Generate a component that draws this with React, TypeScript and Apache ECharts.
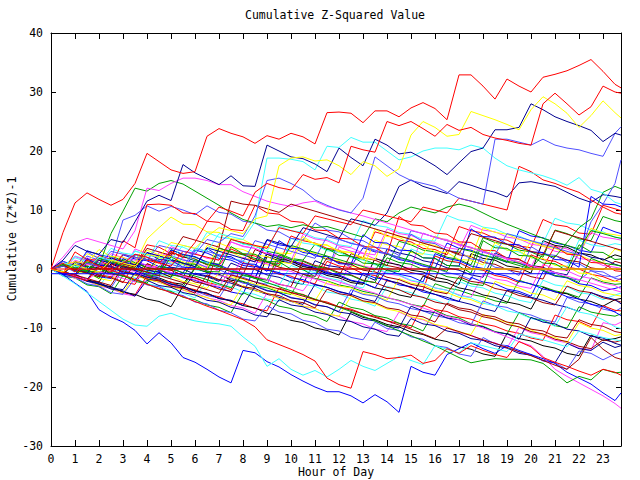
import React, { useEffect, useRef } from "react";
import * as echarts from "echarts";

// ---- axis / labels ----
const TITLE = "Cumulative Z-Squared Value";
const X_NAME = "Hour of Day";
const Y_NAME = "Cumulative (Z*Z)-1";
const X_MIN = 0;
const X_MAX = 23.75;
const Y_MIN = -30;
const Y_MAX = 40;

// sample times (hours): every half hour, last sample at 23:45
const HOURS = [
  0, 0.5, 1, 1.5, 2, 2.5, 3, 3.5, 4, 4.5, 5, 5.5,
  6, 6.5, 7, 7.5, 8, 8.5, 9, 9.5, 10, 10.5, 11, 11.5,
  12, 12.5, 13, 13.5, 14, 14.5, 15, 15.5, 16, 16.5, 17, 17.5,
  18, 18.5, 19, 19.5, 20, 20.5, 21, 21.5, 22, 22.5, 23, 23.5,
  23.75,
];

// ---- series values ----
const R1 = [
  0, 6.2, 11.2, 12.9, 11.8, 10.8, 11.8, 14.5, 19.6, 18.2, 16.8, 16.2,
  16.5, 22.5, 23.8, 23, 22.4, 21.3, 22.6, 22, 23, 22.4, 21.2, 26.5,
  26.6, 26.4, 24.8, 26.8, 26.8, 25.8, 27.3, 28.2, 27.2, 25.3, 32.9, 32.9,
  31, 28.8, 32.2, 31, 30, 32.5, 33, 33.6, 34.5, 35.5, 33.5, 31.3,
  30.7,
];
const R2 = [
  0, 1, -0.5, 1.5, 0.5, -0.5, 1, 2.5, 2, 1, 3, 2,
  4.5, 8, 10.5, 9.8, 9, 13, 14.5, 13.8, 13.4, 16, 15.2, 15.5,
  14.6, 20.8, 20.2, 19.8, 25, 24.3, 25, 23.8, 22.5, 24.5, 23.5, 24,
  22.8, 22.2, 21.8, 21.3, 21, 28, 29.8, 28, 26.1, 27.5, 31, 30,
  29.8,
];
const Y1 = [
  0, -0.5, 0.8, 0, -0.5, 1.5, 1, 0.5, 2.5, 2, 4.5, 4,
  3.5, 5.5, 7, 6.5, 6, 8.5, 9, 17.5, 18.8, 19, 18.3, 18.5,
  17.5, 16, 18.2, 17.5, 15.7, 17, 22.7, 25, 24, 22.5, 22.8, 26.7,
  26, 25.3, 24.5, 23.6, 27, 29.2, 28, 26.4, 24, 26, 28.5, 26.5,
  25.6,
];
const B1 = [
  0, 1.5, 4, 3, 2.5, 5, 4.5, 8, 11.5, 12.5, 11.6, 17.7,
  16.3, 15.3, 14.3, 15.8, 14.1, 14, 21, 20, 19, 18.7, 17.8, 16.5,
  20.5, 18.9, 17.5, 22, 21, 19.5, 19.8, 18.7, 17.5, 16, 18, 19.9,
  20.5, 23.6, 23.6, 24, 28, 27, 25.8, 25, 24.3, 23.5, 21.6, 23,
  22.7,
];
const L1 = [
  0, 0.5, -0.5, 1, 0.5, 3, 2.5, 2, 1.5, 4, 3.5, 3,
  2.5, 5, 4.5, 6, 5.5, 9, 15, 15.4, 14.5, 13.4, 11.7, 10.8,
  10, 9.5, 12, 19, 17.5, 16, 15, 14.5, 14, 13, 12, 11.5,
  11, 22, 22, 21.5, 21, 22, 21, 20.5, 20.2, 19.6, 19.1, 23,
  24.1,
];
const C1 = [
  0, 1, 0.5, 0, 2, 1.5, 1, 3, 2.5, 2, 1.5, 4,
  3.5, 3, 6, 5.5, 5, 8, 18.8, 18.8, 18.6, 18.2, 16.8, 20.8,
  20.6, 22.3, 21.5, 21.5, 20, 18.5, 19, 20, 20.5, 20.5, 20.2, 21,
  20.5, 18.8, 17.5, 16.8, 16.3, 15.8, 15.1, 14.2, 15.5, 13.5, 12.9, 11.3,
  11,
];
const R3 = [
  0, -0.5, -1, 1, 0.5, 0, 2.5, 2, 1.5, 1, 0.5, 3,
  2.5, 2, 1.5, 5, 4.5, 4, 3.5, 7, 6.5, 6, 9, 8.5,
  8, 7.5, 10, 9.5, 9, 8.5, 8, 10.5, 10, 9.5, 12, 11.5,
  11, 10.5, 10, 17.4, 16.5, 15.1, 14.5, 13.7, 13, 11.7, 10.5, 9.5,
  9.3,
];
const BB1 = [
  0, -0.9, -2.4, -3.8, -6.9, -8.1, -9, -10.4, -12.7, -10.8, -12.5, -15,
  -15.8, -17, -18.3, -19.3, -13.8, -14.2, -15.7, -16.6, -17.9, -19, -20, -20.8,
  -20.8, -21.5, -22.7, -21.3, -22.5, -24.3, -16.5, -17.5, -18, -14.5, -13.5, -12.5,
  -13.5, -14.3, -13, -13.8, -14.5, -15.2, -16, -17.5, -18.5, -19.5, -21, -22.3,
  -21,
];
const MB = [
  0, -0.5, -1.2, -1.8, -0.5, -1, -1.6, -2.2, 0.5, 0, -0.6, -1.2,
  -1.8, -2.4, -3, 0, -0.6, -1.2, -1.8, -2.5, -3.1, -3.7, -1, -1.6,
  -2.2, -2.8, -3.5, -4.1, -4.8, -5.4, -6, -6.6, -7.3, -8, -8.6, -9.3,
  -10, -10.7, -11.5, -12.3, -13, -14.8, -17, -18.2, -19.3, -20.4, -21.5, -22.8,
  -23.6,
];
const GB = [
  0, -0.5, -1, 0.5, 0, -0.6, -1.2, -1.8, -2.4, 0.5, 0, -0.6,
  -1.2, -1.8, -2.5, -3.2, -1, -1.6, -2.3, -3, -3.7, -4.4, -5.1, -5.8,
  -6.5, -7.2, -8, -8.8, -9.6, -10.5, -11.3, -12.2, -13, -14, -15, -15.9,
  -15.5, -15.2, -15.3, -15.3, -15.4, -16, -17.6, -19.3, -18.2, -18.8, -17, -17.6,
  -17.5,
];
const CB = [
  0, -1.2, -2.5, -4, -5.5, -7, -8.5, -9.5, -9.7, -8, -7.5, -8.3,
  -8.8, -9.1, -9.3, -9.7, -11.5, -13.1, -16.5, -15.2, -17, -18, -17.2, -18.3,
  -17, -15.5, -16.5, -17.2, -16, -14.8, -15.5, -16.2, -13, -13.6, -14.2, -12.5,
  -13, -13.5, -14, -11, -11.5, -12, -12.6, -13.2, -10.5, -11, -11.6, -12,
  -12.2,
];
const RB = [
  0, -0.6, -1.3, -2, 0.5, -0.2, -1, -1.8, -2.6, -3.3, -4, -4.7,
  -5.5, -6.3, -7, -7.8, -8.6, -9.8, -12, -12.8, -13.6, -14.5, -15.6, -18.5,
  -19.6, -20.2, -14, -14.5, -15.2, -15, -14.6, -16, -15.5, -13.5, -14.3, -13,
  -13.8, -14.5, -15, -12.3, -13.2, -15, -15.8, -16.5, -17.3, -18, -17, -17.5,
  -18,
];
const DRB = [
  0, -0.5, -1, -1.6, -2.2, -2.8, 0.5, 0, -0.5, -1.1, -1.7, -2.3,
  -2.9, -3.5, -4.1, -1, -1.6, -2.2, -2.8, -3.4, -4, -4.6, -5.2, -5.8,
  -6.4, -7, -7.6, -8.2, -8.8, -9.5, -10.2, -11, -11.8, -10, -10.6, -11.3,
  -12, -12.6, -13.3, -14, -14.7, -15.5, -16.3, -17, -15.3, -11.6, -13.6, -15,
  -15.3,
];
const M1 = [
  0, 0.8, 0.2, -0.4, 1.8, 1.2, 0.6, 0, -0.6, 2.2, 1.6, 1,
  0.4, -0.2, 3.5, 3, 2.4, 1.8, 1.2, 0.6, 4, 3.4, 2.8, 2.2,
  1.6, 1, 0.4, -0.2, 2.5, 2, 1.4, 0.8, 0.2, -0.4, 3.5, 3,
  2.4, 1.8, 1.2, 0.6, 0, 2.5, 2, 4.5, 7, 8.5, 13, 14,
  13.6,
];
const M2 = [
  0, -0.6, -1.2, 1, 0.4, -0.2, -0.8, 2.5, 2, 1.4, 0.8, 0.2,
  3.5, 3, 2.4, 1.8, 1.2, 4.8, 4.2, 3.6, 3, 2.4, 1.8, 5.5,
  5, 4.4, 3.8, 3.2, 2.6, 2, 6.5, 6, 5.4, 4.8, 4.2, 3.6,
  3, 2.4, 6, 5.4, 4.8, 4.2, 3.6, 3, 2.4, 8, 11, 14.5,
  18.5,
];
const M3 = [
  0, 0.5, -0.1, -0.7, 1.5, 1, 0.4, -0.2, 2.8, 2.2, 1.6, 1,
  0.4, 3.6, 3, 2.4, 1.8, 1.2, 5, 4.4, 3.8, 7, 6.4, 5.8,
  5.2, 8.5, 8, 7.4, 9.5, 14, 15.1, 14, 13.4, 12.8, 14.8, 14.2,
  13.5, 13, 12.2, 14.6, 14.8, 14.4, 14, 13, 12, 11.3, 12.6, 12.3,
  12.1,
];
const GU = [
  0, 0.6, 0, 1.2, 0.6, 6, 9.8, 13.7, 13.2, 14.5, 15, 14.4,
  13.2, 12, 10.8, 9.5, 8.4, 7.8, 7.2, 7.5, 7, 7.5, 7, 7.2,
  6.6, 6, 5.4, 8.5, 8, 9.5, 10.5, 10, 9.5, 10.5, 11, 10.5,
  9.5, 8.5, 7.6, 6.8, 6, 5.2, 4.6, 4, 3.4, 6.5, 6, 5.4,
  5.2,
];
const MU = [
  0, 2, 4.5, 5.2, 4.6, 4, 3.4, 6.5, 13.7, 13.3, 14.5, 15.4,
  15.4, 15, 14.3, 14.3, 13.1, 12.3, 11.5, 11, 10.6, 11.2, 11.5, 10.6,
  10.1, 9.5, 9, 8.4, 7.8, 7.2, 6.6, 6, 5.4, 4.8, 4.2, 3.6,
  3, 2.4, 1.8, 1.2, 0.6, 0, -0.6, -1.2, -1.8, -2.4, -3, -3.6,
  -3.9,
];
const DR1 = [
  0, 0.5, -0.1, -0.7, -1.3, 1.5, 0.9, 0.3, 3.5, 2.9, 2.3, 5.5,
  4.9, 4.3, 3.7, 11.5, 11, 10.8, 10.2, 9.6, 11, 10.4, 9.8, 9.2,
  8.6, 8, 7.4, 6.8, 6.2, 5.6, 5, 4.4, 3.8, 3.2, 2.6, 6,
  5.4, 4.8, 4.2, 3.6, 3, 2.4, 6.5, 5.9, 5.3, 4.7, 4.1, 3.5,
  3.2,
];
const U1 = [
  0, 1.3, 0.2, 2.9, 1.8, 1.5, 8.3, 9.1, 10.7, 9.8, 10.6, 10.0,
  9.2, 10.7, 9.6, 9.3, 8.1, 7.8, 6.6, 6.3, 5.2, 4.9, 7.8, 6.6,
  6.3, 5.1, 4.8, 3.7, 3.4, 2.3, 5.9, 4.6, 4.3, 3.1, 2.9, 1.7,
  1.5, 0.3, 0.0, -1.1, 3.8, 2.6, 2.3, 1.1, 0.9, -0.3, -0.5, -1.6,
  -1.8,
];
const U2 = [
  0, -0.8, 2.9, 1.6, 1.5, 0.4, 4.8, 3.6, 10.9, 11.0, 10.8, 9.5,
  9.4, 8.1, 7.9, 6.7, 6.5, 10.8, 9.5, 9.3, 8.1, 7.9, 6.6, 6.5,
  5.2, 5.1, 3.8, 3.7, 2.4, 8.9, 7.5, 7.3, 6.1, 5.9, 4.6, 4.5,
  3.2, 3.1, 1.8, 1.7, 0.4, 0.3, 3.9, 2.5, 2.4, 1.1, 1.0, -0.3,
  -0.4,
];
const U3 = [
  0, 0.8, 1.2, 1.1, 3.3, 2.1, 2.0, 0.9, 5.1, 7.0, 8.8, 7.6,
  7.5, 6.3, 6.2, 5.1, 5.0, 3.9, 3.8, 2.7, 2.6, 5.5, 4.2, 4.1,
  2.9, 2.8, 1.6, 6.8, 5.5, 5.4, 4.2, 4.1, 2.9, 2.8, 1.6, 1.5,
  0.7, 4.5, 3.2, 3.1, 1.9, 1.8, 0.6, 0.5, -0.7, -0.8, -2.0, -2.1,
  -2.2,
];
const U4 = [
  0, -0.9, -1.0, 1.8, 0.6, 0.5, -0.7, -0.8, 2.8, 1.6, 1.5, 0.3,
  0.2, 3.5, 2.2, 2.1, 0.9, 0.8, -0.4, 4.8, 3.5, 3.4, 2.2, 2.1,
  0.9, 0.8, 5.8, 4.5, 4.4, 3.2, 3.1, 1.9, 1.8, 0.6, 0.5, 6.8,
  5.5, 5.4, 4.2, 4.1, 2.9, 2.8, 1.6, 1.5, 0.3, 12.3, 11.0, 10.9,
  10.5,
];
const U5 = [
  0, 0.8, -0.4, -0.5, -1.6, 1.5, 0.3, 0.2, -1.0, -1.1, 2.1, 0.9,
  0.8, -0.4, -0.5, 3.8, 2.6, 2.5, 1.3, 1.2, 0.0, -0.1, -1.3, 3.5,
  2.3, 2.2, 1.0, 0.9, -0.3, -0.4, 3.1, 1.9, 1.8, 0.6, 0.5, -0.7,
  4.8, 3.6, 3.5, 2.3, 2.2, 1.0, 0.9, -0.3, 4.1, 2.9, 2.8, 1.6,
  1.7,
];
const A1 = [
  0, 0.7, -0.1, -0.5, 2.3, 1.6, 1.4, 0.5, 4.1, 3.7, 2.6, 2.3,
  1.5, 0.8, 0.6, 3.4, 2.5, 2.2, 1.1, 0.9, 5.6, 4.8, 4.4, 3.5,
  3.2, 2.1, 1.9, 6.3, 5.7, 4.9, 4.6, 3.5, 3.3, 2.4, 7.2, 6.5,
  6.1, 5.2, 4.9, 3.9, 3.6, 8.4, 7.5, 7.2, 6.1, 5.9, 10.8, 10.2,
  9.9,
];
const A2 = [
  0, -0.8, 0.9, 0.3, -0.6, -0.9, 1.7, 1.1, 0.2, -0.1, 3.3, 2.4,
  2.0, 1.2, 0.8, 5.1, 4.3, 3.9, 3.0, 2.6, 1.8, 1.5, 4.2, 3.3,
  3.0, 2.1, 1.6, 0.9, 0.6, 4.7, 4.1, 3.2, 2.9, 2.0, 1.6, 0.7,
  5.3, 4.5, 4.2, 3.2, 2.9, 2.0, 6.6, 6.0, 5.1, 4.8, 8.9, 8.2,
  8.0,
];
const A3 = [
  0, 1.3, 0.6, 0.4, -0.5, -0.8, 2.4, 1.7, 1.4, 0.4, 0.2, -0.7,
  3.2, 2.7, 1.8, 1.5, 0.6, 0.3, 4.9, 4.1, 3.8, 2.8, 2.5, 1.6,
  1.3, 0.4, 3.6, 2.9, 2.6, 1.6, 1.2, 0.5, 0.1, 4.4, 3.5, 3.2,
  2.3, 1.9, 1.1, 6.5, 5.6, 5.3, 4.4, 4.0, 3.2, 2.8, 7.1, 6.3,
  6.0,
];
const A4 = [
  0, -0.6, -1.4, 1.9, 1.1, 0.8, -0.1, -0.4, -1.3, 2.8, 2.0, 1.7,
  0.8, 0.4, -0.4, 4.6, 3.9, 3.5, 2.6, 2.3, 1.3, 1.0, 0.2, -0.2,
  3.7, 3.0, 2.6, 1.7, 1.4, 0.5, 0.1, 6.1, 5.3, 5.0, 4.0, 3.7,
  2.8, 2.4, 1.6, 1.2, 0.3, 4.5, 3.8, 3.4, 2.5, 6.2, 5.4, 5.1,
  4.9,
];
const A5 = [
  0, 0.4, 2.2, 1.6, 0.7, 0.4, -0.5, 3.1, 2.3, 2.0, 1.0, 0.7,
  -0.1, -0.5, 2.5, 1.8, 1.4, 0.5, 0.1, -0.7, 5.2, 4.4, 4.1, 3.1,
  2.8, 1.9, 1.5, 0.7, 0.3, -0.5, 3.4, 2.6, 2.3, 1.3, 1.0, 0.1,
  -0.3, 4.0, 3.2, 2.9, 1.9, 1.6, 0.7, 0.3, 4.9, 4.1, 3.8, 4.3,
  4.1,
];
const A6 = [
  0, -0.9, -1.2, 1.4, 0.6, 0.3, -0.7, -1.0, -1.8, 1.9, 1.2, 0.8,
  -0.1, 4.0, 3.2, 2.9, 1.9, 1.6, 0.7, 0.4, 3.8, 3.0, 2.7, 1.7,
  1.4, 0.5, 0.1, 4.9, 4.1, 3.8, 2.8, 2.5, 5.6, 4.8, 4.5, 3.5,
  3.2, 2.3, 1.9, 1.1, 4.8, 4.0, 3.7, 2.7, 2.4, 1.5, 1.1, 3.4,
  3.0,
];
const A7 = [
  0, -0.7, -0.9, -1.9, -2.2, 0.9, 0.1, -0.2, -1.1, -1.5, -2.3, -2.6,
  0.2, -0.6, -0.9, -1.9, -2.2, -3.1, 2.1, 1.4, 1.0, 0.1, -0.2, -1.1,
  -1.5, -2.3, -2.6, 1.8, 1.1, 0.7, -0.2, -0.5, -1.4, -1.8, -2.6, 2.6,
  1.8, 1.5, 0.5, 0.2, -0.7, 4.8, 4.0, 3.7, 2.7, 2.4, 1.5, 2.4,
  2.1,
];
const A8 = [
  0, 0.9, 0.2, -0.2, -1.1, 1.6, 0.8, 0.5, -0.5, -0.8, 2.8, 2.0,
  1.7, 0.7, 0.4, -0.5, -0.9, 3.3, 2.5, 2.2, 1.2, 0.9, 0.0, -0.4,
  -1.2, 2.6, 1.9, 1.5, 0.6, 0.2, -0.6, -1.0, -1.8, 3.2, 2.4, 2.1,
  1.1, 0.8, -0.1, -0.5, -1.3, -1.7, 2.3, 1.5, 1.2, 0.2, -0.1, 1.3,
  1.0,
];
const A9 = [
  0, -1.0, 1.2, 0.4, 0.1, -0.8, -1.2, 2.4, 1.6, 1.3, 0.3, 0.0,
  -0.9, -1.3, -2.1, 1.0, 0.2, -0.1, -1.0, -1.4, -2.2, -2.6, 1.4, 0.6,
  0.3, -0.7, -1.0, -1.9, 3.4, 2.7, 2.3, 1.4, 1.0, 0.2, -0.2, -1.0,
  -1.4, 2.7, 1.9, 1.6, 0.6, 0.3, -0.6, -1.0, 2.8, 2.0, 1.7, 0.8,
  0.5,
];
const A10 = [
  0, 0.6, -0.3, 2.2, 1.5, 1.1, 0.2, -0.1, -1.0, -1.4, 2.3, 1.5,
  1.2, 0.2, -0.1, -1.0, -1.4, -2.2, -2.6, 1.7, 1.0, 0.6, -0.3, -0.7,
  5.1, 4.3, 4.0, 3.0, 2.7, 1.8, 1.4, 0.6, 0.2, -0.6, -1.0, -1.8,
  3.0, 2.2, 1.9, 0.9, 0.6, -0.3, -0.7, -1.5, -1.9, -0.3, -1.1, -1.4,
  -1.0,
];
const A11 = [
  0, 1.0, 0.2, -0.1, -1.0, -1.3, -2.2, -2.6, 0.9, 0.1, -0.2, -1.1,
  -1.5, -2.3, -2.7, -3.5, 1.1, 0.4, 0.0, -0.9, -1.2, -2.1, -2.5, 1.3,
  0.5, 0.2, -0.8, -1.1, -2.0, -2.4, -3.2, -3.6, 2.2, 1.4, 1.1, 0.1,
  -0.2, -1.1, -1.5, -2.3, 2.4, 1.6, 1.3, 0.3, 0.0, -0.9, -1.3, -2.1,
  -1.6,
];
const A12 = [
  0, -0.4, -1.3, 1.6, 1.0, 0.5, -0.3, -0.8, -1.4, -1.9, -2.5, -3.0,
  0.1, -0.5, -1.0, -1.6, -2.1, -2.8, -3.2, -3.9, -4.3, -0.9, -1.6, -2.0,
  -2.7, -3.1, -3.8, -4.2, -4.9, -5.3, -6.0, -6.4, -2.5, -3.2, -3.6, -4.3,
  -4.7, -5.4, -5.8, -1.9, -2.6, -3.0, -3.7, -4.1, -4.8, -1.5, -2.2, -2.6,
  -2.5,
];
const A13 = [
  0, 0.7, -0.1, -0.4, -1.3, -1.6, 1.8, 1.0, 0.7, -0.3, -0.6, -1.5,
  -1.9, -2.7, -3.1, -3.9, -4.3, 0.5, -0.2, -0.6, -1.5, -1.8, -2.7, -3.1,
  -3.9, -4.3, -0.7, -1.5, -1.8, -2.7, -3.0, -3.9, -4.3, -5.1, -5.5, -1.4,
  -2.2, -2.5, -3.4, -3.8, -4.6, -0.4, -1.2, -1.5, -2.5, -2.8, -3.7, -3.3,
  -3.0,
];
const A14 = [
  0, -0.6, 2.1, 1.4, 1.0, 0.1, -0.2, 3.4, 2.6, 2.3, 1.3, 1.0,
  0.1, -0.3, -1.1, -1.5, 2.0, 1.2, 0.9, -0.1, -0.4, -1.3, -1.7, -2.5,
  -2.9, 1.2, 0.5, 0.1, -0.8, -1.1, -2.0, -2.4, -3.2, -3.6, -4.4, -4.8,
  -0.9, -1.7, -2.0, -2.9, -3.3, 0.8, 0.0, -0.3, -1.2, -1.6, -2.4, -2.8,
  -3.4,
];
const A15 = [
  0, -1.1, -1.4, -2.6, -2.9, -0.4, -1.2, -1.5, -2.5, -2.9, -3.7, -4.1,
  -4.9, -1.9, -2.7, -3.0, -3.9, -4.3, -5.1, -5.5, -1.8, -2.6, -2.9, -3.9,
  -4.2, -5.1, -5.5, -6.3, -2.9, -3.6, -4.0, -4.9, -5.2, -6.1, -2.1, -2.9,
  -3.2, -4.1, -4.5, -5.3, -5.7, -1.9, -2.7, -3.0, -4.0, -4.3, -5.2, -4.4,
  -4.1,
];
const A16 = [
  0, 0.5, -0.4, -0.7, -1.6, -2.0, 1.2, 0.4, 0.1, -0.9, -1.2, -2.1,
  -2.5, -3.3, -0.6, -1.3, -1.7, -2.6, -2.9, -3.8, -4.2, -5.0, -5.4, -2.1,
  -2.9, -3.2, -4.1, -4.5, -5.3, -1.6, -2.4, -2.7, -3.6, -4.0, -4.8, -5.2,
  -6.0, -2.1, -2.8, -3.2, -4.1, -4.4, -5.3, -2.0, -2.8, -3.1, -4.0, -4.4,
  -4.6,
];
const A17 = [
  0, 0.8, -0.1, -0.4, -1.3, 1.9, 1.1, 0.8, -0.2, -0.5, -1.4, 2.2,
  1.4, 1.1, 0.1, -0.2, -1.1, -1.5, 2.5, 1.7, 1.4, 0.4, 0.1, -0.8,
  -1.2, -2.0, -2.4, -3.2, -3.6, -4.4, -4.8, -1.2, -2.0, -2.3, -3.2, -3.6,
  -4.4, -4.8, -5.6, -6.0, -6.8, -3.1, -3.9, -4.2, -5.1, -5.5, -6.3, -5.2,
  -5.0,
];
const A18 = [
  0, -0.9, 1.3, 0.5, 0.2, -0.8, -1.1, -2.0, 0.9, 0.1, -0.2, -1.1,
  -1.5, -2.3, 3.6, 2.8, 2.5, 1.5, 1.2, 0.3, -0.1, -0.9, -1.3, 1.9,
  1.1, 0.8, -0.2, -0.5, -1.4, -1.8, -2.6, -3.0, -3.8, -4.2, -1.3, -2.1,
  -2.4, -3.3, -3.7, -4.5, -4.9, -5.7, -6.1, -2.9, -3.7, -4.0, -4.9, -5.3,
  -5.6,
];
const A19 = [
  0, -0.5, -1.4, -1.8, 0.8, 0.3, -0.5, -1.0, -1.7, -2.2, -2.9, -3.4,
  -0.7, -1.2, -1.9, -2.4, -3.1, -3.6, -4.3, -4.8, -5.5, -6.0, -2.6, -3.1,
  -3.8, -4.3, -5.0, -5.5, -1.9, -2.4, -3.1, -3.6, -4.3, -4.8, -5.5, -6.0,
  -6.7, -7.2, -3.6, -4.1, -4.8, -5.3, -6.0, -6.5, -7.2, -4.0, -4.7, -5.2,
  -5.9,
];
const A20 = [
  0, -0.8, -1.1, -2.0, -2.4, -3.2, -0.1, -0.9, -1.2, -2.1, -2.5, -3.3,
  -3.7, -4.5, -4.9, -1.6, -2.4, -2.7, -3.6, -4.0, -4.8, -5.2, -6.0, -6.4,
  -7.2, -3.5, -4.3, -4.6, -5.5, -5.9, -6.7, -7.1, -7.9, -8.3, -9.1, -9.5,
  -5.4, -6.2, -6.5, -7.4, -7.8, -8.6, -9.0, -4.8, -5.6, -5.9, -6.8, -7.2,
  -6.6,
];
const A21 = [
  0, -0.6, -1.5, -1.9, -2.8, -3.1, -4.0, -4.4, -1.1, -1.9, -2.2, -3.1,
  -3.5, -4.3, -4.7, -5.5, -5.9, -6.7, -7.1, -3.2, -4.0, -4.3, -5.2, -5.6,
  -6.4, -6.8, -7.6, -8.0, -8.8, -9.2, -10.0, -6.1, -6.9, -7.2, -8.1, -8.5,
  -9.3, -9.7, -10.5, -10.9, -11.7, -12.1, -7.8, -8.6, -8.9, -9.8, -6.2, -7.0,
  -7.1,
];
const A22 = [
  0, -1.2, -1.5, -2.7, -3.0, -4.2, -1.1, -2.1, -2.5, -3.4, -3.8, -4.8,
  -5.2, -6.1, -6.5, -7.4, -4.0, -4.9, -5.3, -6.3, -6.7, -7.6, -8.0, -8.9,
  -5.6, -6.5, -6.9, -7.9, -8.3, -9.2, -9.6, -10.5, -7.0, -7.9, -8.3, -9.3,
  -9.7, -10.6, -11.0, -7.4, -8.3, -8.7, -9.6, -10.0, -6.4, -7.3, -7.7, -8.0,
  -7.6,
];
const A23 = [
  0, 0.6, -0.3, 3.1, 2.4, 2.0, 1.1, 0.7, -0.2, -0.6, 3.2, 2.5,
  2.1, 1.1, 0.7, -0.2, -0.6, -1.5, 2.8, 2.0, 1.6, 0.7, 0.3, -0.6,
  -1.0, -1.9, -2.3, -3.2, -0.1, -0.9, -1.3, -2.2, 2.6, 1.8, 1.4, 0.5,
  0.1, -0.8, -1.2, -2.1, -2.5, -3.4, -3.8, -4.7, -5.1, -6.0, -6.4, -7.3,
  -7.9,
];
const A24 = [
  0, -0.7, -1.6, -2.0, -2.9, -3.3, -4.2, -4.6, -1.4, -2.3, -2.7, -3.6,
  -4.0, -4.9, -5.3, -6.2, -6.6, -7.5, -4.1, -5.0, -5.4, -6.3, -6.7, -7.6,
  -8.0, -8.9, -9.3, -10.2, -10.6, -7.3, -8.2, -8.6, -9.5, -9.9, -10.8, -11.2,
  -12.1, -12.5, -13.4, -9.9, -10.8, -11.2, -12.1, -12.5, -13.4, -13.8, -9.1, -9.5,
  -9.0,
];
const A25 = [
  0, 0.9, 0.1, -0.3, -1.2, 1.7, 0.9, 0.5, -0.4, -0.8, -1.7, 2.3,
  1.5, 1.1, 0.2, -0.2, -1.1, -1.5, -2.4, -2.8, 0.6, -0.2, -0.6, -1.5,
  -1.9, -2.8, -3.2, 0.2, -0.6, -1.0, -1.9, -2.3, -3.2, -3.6, -4.5, -4.9,
  -5.8, -6.2, -7.1, -7.5, -8.4, -8.8, -9.7, -6.4, -7.3, -7.7, -8.6, -9.8,
  -10.1,
];
const A26 = [
  0, -0.6, -1.5, -1.9, -2.8, -3.2, -4.1, -0.9, -1.8, -2.2, -3.1, -3.5,
  -4.4, -4.8, -5.7, -6.1, -2.8, -3.7, -4.1, -5.0, -5.4, -6.3, -6.7, -7.6,
  -8.0, -4.6, -5.5, -5.9, -6.8, -7.2, -8.1, -8.5, -9.4, -9.8, -10.7, -11.1,
  -7.7, -8.6, -9.0, -9.9, -10.3, -11.2, -11.6, -12.5, -9.1, -10.0, -10.4, -11.3,
  -11.1,
];
const A27 = [
  0, -0.5, -1.4, -1.8, -2.6, -3.0, -3.9, -4.3, -5.1, -5.5, -6.4, -2.9,
  -3.7, -4.1, -5.0, -5.4, -6.2, -6.6, -7.5, -7.9, -8.7, -9.1, -10.0, -10.4,
  -11.2, -7.3, -8.2, -8.6, -9.4, -9.8, -10.7, -11.1, -11.9, -12.3, -13.2, -13.6,
  -14.4, -14.8, -10.9, -11.8, -12.2, -13.0, -13.4, -14.3, -14.7, -11.2, -12.1, -11.8,
  -11.5,
];
const A28 = [
  0, 0.9, 0.1, -0.2, -1.1, -1.5, -2.3, 1.1, 0.3, -0.1, -1.0, -1.3,
  -2.2, -2.6, -3.4, -3.8, -0.6, -1.4, -1.8, -2.6, -3.0, 1.4, 0.6, 0.2,
  -0.6, -1.0, -1.9, -2.3, -3.1, -3.5, -4.4, -4.8, -5.6, -6.0, -6.9, -7.3,
  -8.1, -8.5, -9.4, -9.8, -10.6, -11.0, -11.9, -12.3, -13.1, -13.5, -12.0, -12.4,
  -12.1,
];
const A29 = [
  0, -0.9, -1.2, -2.1, -2.5, -3.4, -3.7, -4.6, -1.9, -2.8, -3.1, -4.0,
  -4.4, -5.3, -5.6, -6.5, -6.9, -7.8, -8.1, -5.2, -6.1, -6.4, -7.3, -7.7,
  -8.6, -8.9, -9.8, -10.2, -11.1, -11.4, -8.4, -9.3, -9.6, -10.5, -10.9, -11.8,
  -12.1, -13.0, -13.4, -14.3, -14.6, -15.5, -15.9, -12.6, -13.5, -13.8, -12.4, -13.3,
  -13.0,
];
const A30 = [
  0, -1.1, -1.4, -2.5, -2.9, -4.0, -4.3, -1.6, -2.7, -3.0, -4.1, -4.5,
  -5.6, -5.9, -7.0, -7.4, -8.5, -8.8, -6.2, -7.3, -7.6, -8.7, -9.1, -10.2,
  -10.5, -11.6, -12.0, -9.0, -10.1, -10.4, -11.5, -11.9, -13.0, -13.3, -14.4, -14.8,
  -11.6, -12.7, -13.0, -14.1, -14.5, -15.6, -15.9, -17.0, -13.9, -14.3, -15.4, -14.4,
  -14.1,
];
const A31 = [
  0, 0.6, 1.9, 1.2, 0.9, 3.5, 2.7, 2.4, 1.5, 4.8, 4.0, 3.7,
  2.8, 6.2, 5.4, 5.1, 4.2, 3.9, 3.0, 7.3, 6.5, 6.2, 5.3, 5.0,
  4.1, 3.8, 8.2, 7.4, 7.1, 6.2, 5.9, 5.0, 4.7, 9.1, 8.3, 8.0,
  7.1, 6.8, 5.9, 5.6, 4.7, 4.4, 8.6, 7.8, 7.5, 6.6, 6.3, 5.4,
  5.2,
];
const A32 = [
  0, -0.7, 1.5, 0.8, 0.4, 2.6, 1.9, 1.5, 0.6, 0.3, 3.8, 3.0,
  2.7, 1.8, 1.5, 4.6, 3.8, 3.5, 2.6, 2.3, 1.4, 5.9, 5.1, 4.8,
  3.9, 3.6, 2.7, 2.4, 6.8, 6.0, 5.7, 4.8, 4.5, 3.6, 3.3, 7.4,
  6.6, 6.3, 5.4, 5.1, 4.2, 3.9, 3.0, 2.7, 1.8, 1.5, 0.6, 0.3,
  0.1,
];
const A33 = [
  0, -0.8, -1.1, -2.0, -2.3, -3.2, -3.5, -0.6, -1.4, -1.7, -2.6, -2.9,
  -3.8, -4.1, -5.0, -5.3, -6.2, -2.9, -3.7, -4.0, -4.9, -5.2, -6.1, -6.4,
  -7.3, -7.6, -8.5, -8.8, -9.7, -10.0, -6.3, -7.1, -7.4, -8.3, -8.6, -9.5,
  -9.8, -10.7, -11.0, -11.9, -8.2, -9.0, -9.3, -10.2, -10.5, -11.4, -11.7, -12.6,
  -12.9,
];
const A34 = [
  0, 0.9, 0.6, -0.3, -0.6, 2.2, 1.4, 1.1, 0.2, -0.1, -1.0, -1.3,
  1.6, 0.8, 0.5, -0.4, -0.7, -1.6, -1.9, 2.4, 1.6, 1.3, 0.4, 0.1,
  -0.8, -1.1, -2.0, -2.3, 1.9, 1.1, 0.8, -0.1, -0.4, -1.3, -1.6, -2.5,
  -2.8, 2.1, 1.3, 1.0, 0.1, -0.2, -1.1, -1.4, -2.3, 1.8, 1.0, 0.7,
  0.5,
];
const A35 = [
  0, -0.6, -0.9, 1.5, 0.7, 0.4, -0.5, -0.8, -1.7, -2.0, -2.9, -3.2,
  -4.1, -1.0, -1.8, -2.1, -3.0, -3.3, -4.2, -4.5, -5.4, -5.7, -6.6, -3.4,
  -4.2, -4.5, -5.4, -5.7, -6.6, -6.9, -7.8, -8.1, -9.0, -5.8, -6.6, -6.9,
  -7.8, -8.1, -9.0, -9.3, -10.2, -10.5, -11.4, -11.7, -8.6, -9.4, -9.7, -10.6,
  -10.8,
];
const A36 = [
  0, 0.5, 0.2, 2.6, 1.8, 1.5, 0.6, 0.3, 3.2, 2.4, 2.1, 1.2,
  0.9, 0.0, 4.4, 3.6, 3.3, 2.4, 2.1, 1.2, 0.9, 5.1, 4.3, 4.0,
  3.1, 2.8, 1.9, 1.6, 6.3, 5.5, 5.2, 4.3, 4.0, 3.1, 2.8, 1.9,
  7.0, 6.2, 5.9, 5.0, 4.7, 3.8, 3.5, 2.6, 2.3, 6.9, 6.1, 5.8,
  5.6,
];
// flat (constant) days: level, from hour, to hour
const FLAT_LEVELS = [0, 0, -0.8, 0];
const FLAT_FROM = [0, 1.5, 0, 17];
const FLAT_TO = [23.75, 23.75, 21, 23.75];

// ---- styling ----
const RED = "#ff0000";
const GREEN = "#00a000";
const BLUE = "#0000ff";
const MAGENTA = "#ff40ff";
const CYAN = "#40ffff";
const YELLOW = "#ffff00";
const BLACK = "#000000";
const DARKRED = "#a00000";
const NAVY = "#000090";
const LIGHTBLUE = "#5050ff";

const LINES: { c: string; v: number[] }[] = [
  { c: RED, v: A1 }, { c: GREEN, v: A2 }, { c: BLUE, v: A3 }, { c: MAGENTA, v: A4 },
  { c: CYAN, v: A5 }, { c: YELLOW, v: A6 }, { c: BLACK, v: A7 }, { c: DARKRED, v: A8 },
  { c: NAVY, v: A9 }, { c: LIGHTBLUE, v: A10 }, { c: RED, v: A11 }, { c: GREEN, v: A12 },
  { c: BLUE, v: A13 }, { c: MAGENTA, v: A14 }, { c: CYAN, v: A15 }, { c: YELLOW, v: A16 },
  { c: BLACK, v: A17 }, { c: DARKRED, v: A18 }, { c: NAVY, v: A19 }, { c: LIGHTBLUE, v: A20 },
  { c: RED, v: A21 }, { c: GREEN, v: A22 }, { c: BLUE, v: A23 }, { c: MAGENTA, v: A24 },
  { c: CYAN, v: A25 }, { c: YELLOW, v: A26 }, { c: BLACK, v: A27 }, { c: DARKRED, v: A28 },
  { c: NAVY, v: A29 }, { c: LIGHTBLUE, v: A30 }, { c: CYAN, v: A31 }, { c: MAGENTA, v: A32 },
  { c: NAVY, v: A33 }, { c: GREEN, v: A34 }, { c: DARKRED, v: A35 }, { c: YELLOW, v: A36 },
  { c: LIGHTBLUE, v: U1 }, { c: RED, v: U2 }, { c: YELLOW, v: U3 }, { c: BLUE, v: U4 }, { c: GREEN, v: U5 },
  { c: GREEN, v: M1 }, { c: LIGHTBLUE, v: M2 }, { c: NAVY, v: M3 }, { c: GREEN, v: GU },
  { c: MAGENTA, v: MU }, { c: DARKRED, v: DR1 },
  { c: BLUE, v: BB1 }, { c: MAGENTA, v: MB }, { c: GREEN, v: GB }, { c: CYAN, v: CB },
  { c: RED, v: RB }, { c: DARKRED, v: DRB },
  { c: RED, v: R3 }, { c: CYAN, v: C1 }, { c: LIGHTBLUE, v: L1 }, { c: NAVY, v: B1 },
  { c: YELLOW, v: Y1 }, { c: RED, v: R2 }, { c: RED, v: R1 },
];
const FLAT_COLORS = [RED, DARKRED, BLUE, YELLOW];

const FONT = "'DejaVu Sans Mono', 'Liberation Mono', monospace";

export default function App() {
  const ref = useRef<HTMLDivElement>(null);
  useEffect(() => {
    if (!ref.current) return;
    const chart = echarts.init(ref.current, null, { renderer: "svg" });
    const series: any[] = LINES.map((l) => ({
      type: "line",
      data: l.v.slice(0, HOURS.length).map((y, i) => [HOURS[i], y]),
      showSymbol: false,
      symbol: "none",
      silent: true,
      lineStyle: { color: l.c, width: 1 },
      itemStyle: { color: l.c },
    }));
    FLAT_LEVELS.forEach((lv, i) => {
      series.push({
        type: "line",
        data: [
          [FLAT_FROM[i], lv],
          [FLAT_TO[i], lv],
        ],
        showSymbol: false,
        symbol: "none",
        silent: true,
        lineStyle: { color: FLAT_COLORS[i], width: 1 },
      });
    });
    const axisLine = { show: true, onZero: false, lineStyle: { color: "#000", width: 1 } };
    const tick = (len: number) => ({ show: true, inside: true, length: len, lineStyle: { color: "#000", width: 1 } });
    const txt = (text: string, x: number, y: number, rotation = 0) => ({
      type: "text",
      x,
      y,
      rotation,
      style: {
        text,
        fill: "#000",
        font: `11.5px ${FONT}`,
        textAlign: "center",
        textVerticalAlign: "middle",
      },
    });
    chart.setOption({
      animation: false,
      backgroundColor: "#fff",
      graphic: [
        txt(TITLE, 335, 15),
        txt(X_NAME, 336, 472),
        txt(Y_NAME, 12, 239, Math.PI / 2),
      ],
      grid: { left: 51, right: 19, top: 33, bottom: 34, containLabel: false, outerBoundsMode: "none" },
      xAxis: [
        {
          type: "value",
          position: "bottom",
          min: X_MIN,
          max: X_MAX,
          interval: 1,
          axisLine,
          axisTick: tick(6),
          splitLine: { show: false },
          axisLabel: {
            color: "#000",
            fontFamily: FONT,
            fontSize: 11.5,
            margin: 7,
            showMaxLabel: false,
            formatter: (v: number) => (Number.isInteger(v) ? String(v) : ""),
          },
        },
        {
          type: "value",
          position: "top",
          min: X_MIN,
          max: X_MAX,
          interval: 1,
          axisLine,
          axisTick: tick(6),
          splitLine: { show: false },
          axisLabel: { show: false },
        },
      ],
      yAxis: [
        {
          type: "value",
          position: "left",
          min: Y_MIN,
          max: Y_MAX,
          interval: 10,
          axisLine,
          axisTick: tick(5),
          splitLine: { show: false },
          axisLabel: { color: "#000", fontFamily: FONT, fontSize: 11.5, margin: 8 },
        },
        {
          type: "value",
          position: "right",
          min: Y_MIN,
          max: Y_MAX,
          interval: 10,
          axisLine,
          axisTick: tick(5),
          splitLine: { show: false },
          axisLabel: { show: false },
        },
      ],
      series,
    });
    return () => chart.dispose();
  }, []);
  return (
    <div
      ref={ref}
      style={{ position: "absolute", left: 0, top: 0, width: 640, height: 480, background: "#fff" }}
    />
  );
}
